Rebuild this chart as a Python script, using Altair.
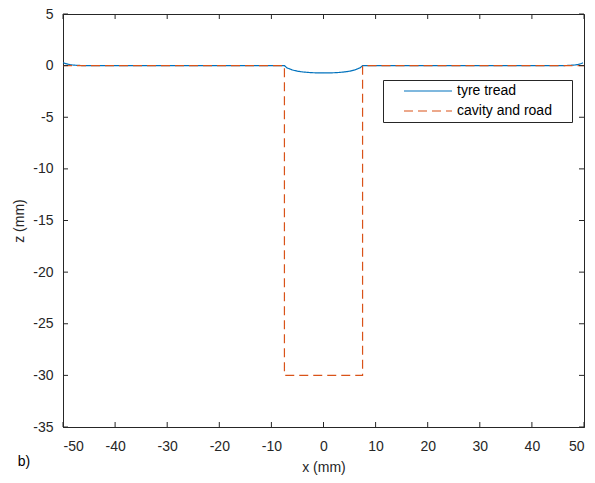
import altair as alt
import pandas as pd

# ---- data ----
tread_x = [-50, -49.5, -49, -48.5, -48, -47, -46, -45, -7.5, -7, -6, -5, -4, -3, -2, -1, 0,
           1, 2, 3, 4, 5, 6, 7, 7.5, 45, 46, 47, 48, 48.5, 49, 49.5, 49.8]
tread_z = [0.28, 0.2, 0.13, 0.08, 0.05, 0.02, 0.0, 0.0, 0.0, -0.22, -0.42, -0.54, -0.61, -0.66, -0.69, -0.7, -0.71,
           -0.7, -0.69, -0.66, -0.61, -0.54, -0.42, -0.22, 0.0, 0.0, 0.0, 0.02, 0.05, 0.08, 0.13, 0.2, 0.28]
cavity_x = [-50, -7.5, -7.5, 7.5, 7.5, 50]
cavity_z = [0, 0, -30, -30, 0, 0]
series_names = ["tyre tread", "cavity and road"]
x_ticks = [-50, -40, -30, -20, -10, 0, 10, 20, 30, 40, 50]
y_ticks = [-35, -30, -25, -20, -15, -10, -5, 0, 5]

W, H = 521, 413
FONT = "Liberation Sans"
AX = "#262626"
TL = 5
FS = 14

tread = pd.DataFrame({"x": tread_x, "z": tread_z, "series": series_names[0], "o": range(len(tread_x))})
cavity = pd.DataFrame({"x": cavity_x, "z": cavity_z, "series": series_names[1], "o": range(len(cavity_x))})

xs = alt.Scale(domain=[-50, 50], nice=False, zero=False)
ys = alt.Scale(domain=[-35, 5], nice=False, zero=False)
leg = dict(title="\u00a0", titleOrient="right", titlePadding=16, titleFontSize=FS, titleFont=FONT,
           orient="none", legendX=320, legendY=66,
           strokeColor=AX, fillColor="white", padding=4,
           symbolType="M-4,0H4", symbolSize=144, symbolStrokeWidth=1.2,
           symbolOffset=34, labelFont=FONT, labelFontSize=FS,
           labelColor="#000", labelOffset=22, rowPadding=6)
color = alt.Color("series:N", scale=alt.Scale(domain=series_names, range=["#0072BD", "#D95319"]),
                  legend=alt.Legend(**leg))
dash = alt.StrokeDash("series:N", scale=alt.Scale(domain=series_names, range=[[1, 0], [9, 5]]),
                      legend=alt.Legend(**leg))

LBL = "replace(datum.label, '\u2212', '-')"
xaxis = alt.Axis(values=x_ticks, title="x (mm)", grid=False, tickSize=0, labelPadding=12,
                 labelFont=FONT, labelFontSize=FS, labelColor=AX, titleFont=FONT, titleFontSize=FS,
                 titleFontWeight="normal", titleColor=AX, titlePadding=7, domainColor=AX,
                 labelExpr=LBL)
yaxis = alt.Axis(values=y_ticks, title="z (mm)", grid=False, tickSize=0, labelPadding=10,
                 labelFont=FONT, labelFontSize=FS, labelColor=AX, titleFont=FONT, titleFontSize=FS,
                 titleFontWeight="normal", titleColor=AX, titlePadding=6, domainColor=AX,
                 labelExpr=LBL)

tread_line = alt.Chart(tread).mark_line(strokeWidth=1.2).encode(
    x=alt.X("x:Q", scale=xs, axis=xaxis),
    y=alt.Y("z:Q", scale=ys, axis=yaxis),
    color=color, strokeDash=dash, order="o:Q")
cav_line = alt.Chart(cavity).mark_line(strokeWidth=1.2).encode(
    x=alt.X("x:Q", scale=xs), y=alt.Y("z:Q", scale=ys),
    color=color, strokeDash=dash, order="o:Q")

xt = pd.DataFrame({"t": x_ticks})
yt = pd.DataFrame({"t": y_ticks})
tick_b = alt.Chart(xt).mark_rule(color=AX, strokeWidth=1).encode(
    x=alt.X("t:Q", scale=xs), y=alt.value(H), y2=alt.value(H - TL))
tick_t = alt.Chart(xt).mark_rule(color=AX, strokeWidth=1).encode(
    x=alt.X("t:Q", scale=xs), y=alt.value(0), y2=alt.value(TL))
tick_l = alt.Chart(yt).mark_rule(color=AX, strokeWidth=1).encode(
    y=alt.Y("t:Q", scale=ys), x=alt.value(0), x2=alt.value(TL))
tick_r = alt.Chart(yt).mark_rule(color=AX, strokeWidth=1).encode(
    y=alt.Y("t:Q", scale=ys), x=alt.value(W), x2=alt.value(W - TL))

label_b = alt.Chart(pd.DataFrame({"s": ["b)"]})).mark_text(
    font=FONT, fontSize=FS, color="#000", align="center", baseline="middle").encode(
    text="s:N", x=alt.value(-39), y=alt.value(448))

chart = alt.layer(tread_line, cav_line, tick_b, tick_t, tick_l, tick_r, label_b).resolve_scale(
    color="shared", strokeDash="shared").properties(
    width=W, height=H, autosize=alt.AutoSizeParams(type="none"),
    padding={"left": 63, "top": 14, "right": 11, "bottom": 56},
    background="white").configure_view(stroke=AX, strokeWidth=1)

chart.save("out.html", embed_options={"renderer": "svg", "actions": False})
